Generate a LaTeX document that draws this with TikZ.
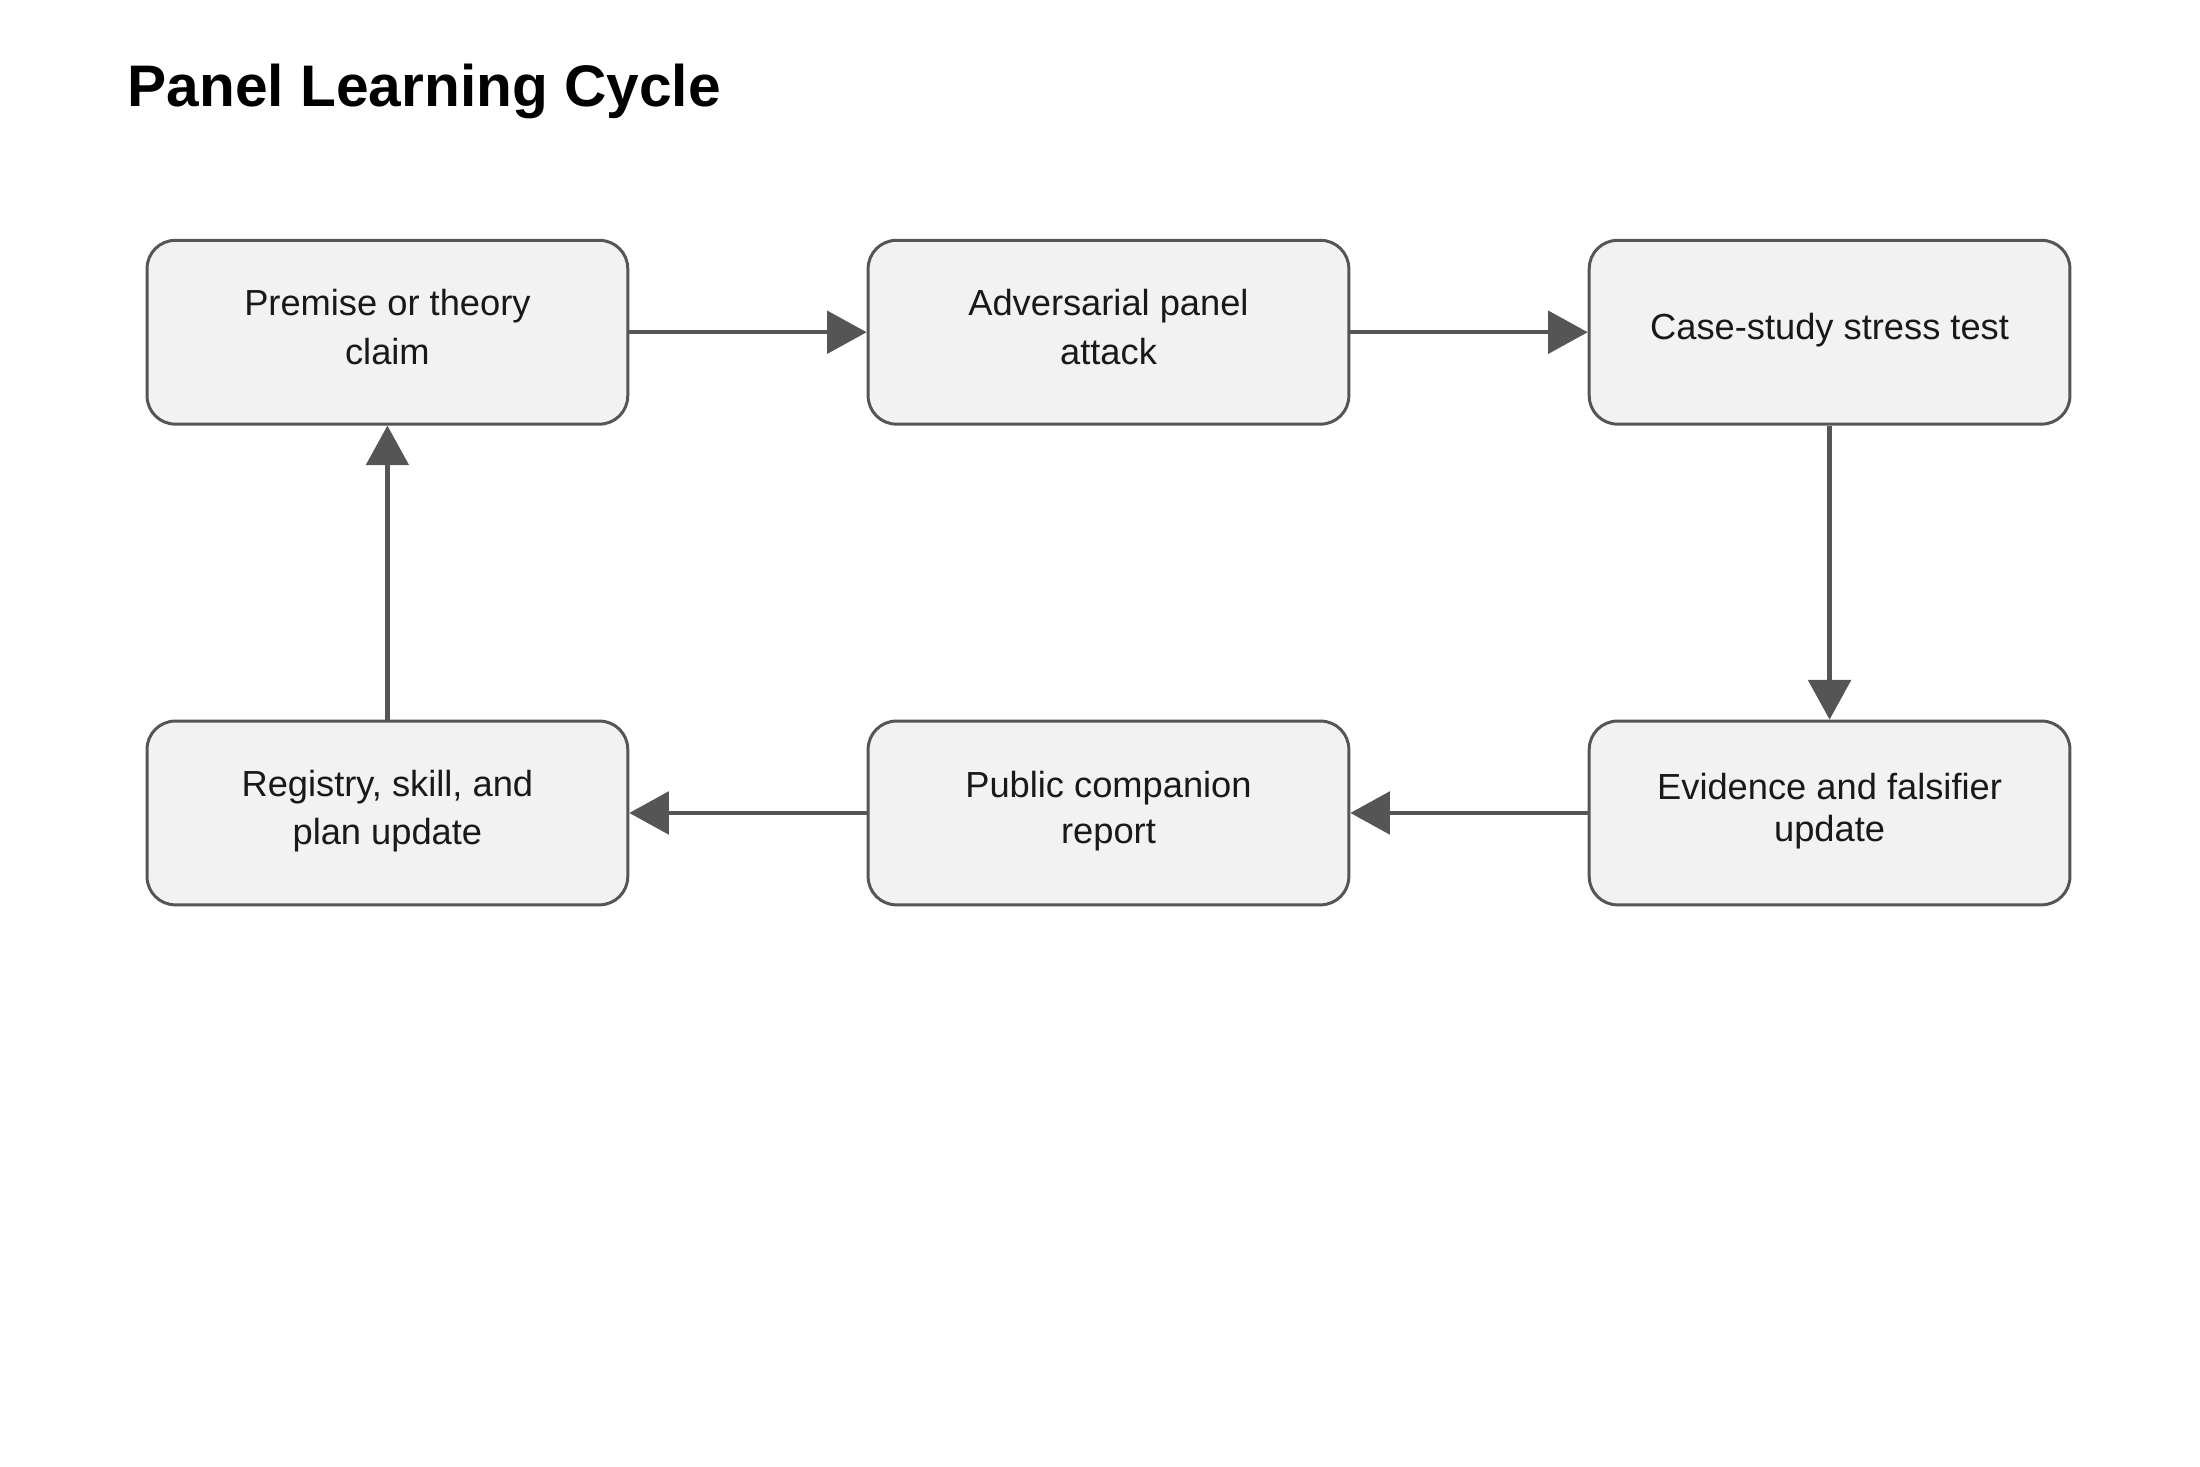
\documentclass[tikz,border=0pt]{standalone}
\usepackage{fontspec}
\setmainfont{Liberation Sans}
\usepackage{xcolor}
\usetikzlibrary{arrows.meta}
\usetikzlibrary{positioning}
\definecolor{boxfill}{HTML}{F2F2F2}
\definecolor{boxline}{HTML}{555555}

\begin{document}
\begin{tikzpicture}[
	stage/.style={rectangle, draw=boxline, line width=0.6pt, fill=boxfill, rounded corners=0.2cm, minimum height=1.3cm, minimum width=3.4cm, align=center, font=\fontsize{7.3}{8.9}\selectfont, text=black!90},
	flow/.style={draw=boxline, line width=0.85pt, -{Triangle[length=0.28cm, width=0.3cm]}}
]

\useasboundingbox (0,0) rectangle (15.56,10.37);

\node at (0.78,9.72) [anchor=west, font=\fontsize{11.8}{14}\selectfont\bfseries] (title) {Panel Learning Cycle};

\node at (2.74,8.02) [stage] (premise) {\raisebox{0.08cm}{\shortstack{Premise or theory\\claim}}};
\node at (7.84,8.02) [stage] (attack) {\raisebox{0.08cm}{\shortstack{Adversarial panel\\attack}}};
\node at (12.94,8.02) [stage] (stress) {\raisebox{0.08cm}{Case-study stress test}};

\node at (12.94,4.62) [stage] (evidence) {\raisebox{0.08cm}{\shortstack{Evidence and falsifier\\update}}};
\node at (7.84,4.62) [stage] (report) {\raisebox{0.08cm}{\shortstack{Public companion\\report}}};
\node at (2.74,4.62) [stage] (registry) {\raisebox{0.08cm}{\shortstack{Registry, skill, and\\plan update}}};

\draw [flow] (premise) -- (attack);
\draw [flow] (attack) -- (stress);
\draw [flow] (stress) -- (evidence);
\draw [flow] (evidence) -- (report);
\draw [flow] (report) -- (registry);
\draw [flow] (registry) -- (premise);

\end{tikzpicture}
\end{document}
